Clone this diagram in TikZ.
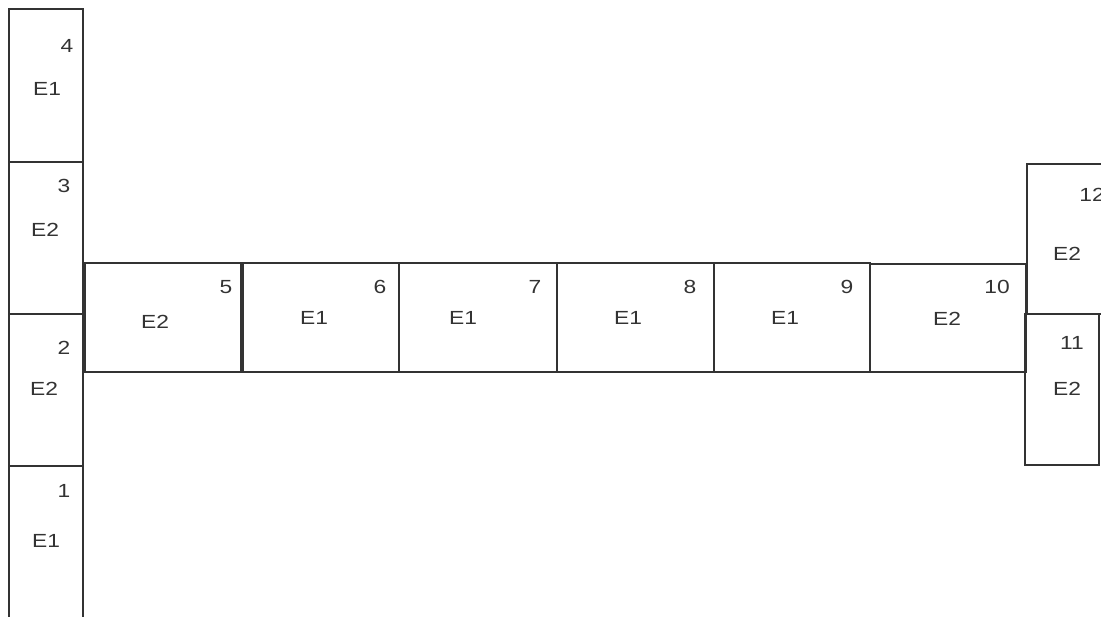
\documentclass[tikz,border=0pt]{standalone}
\usepackage{fontspec}
\setmainfont{Liberation Sans}[FakeStretch=1.2]
\usetikzlibrary{calc}

\begin{document}
\begin{tikzpicture}[x=1pt, y=-1pt, line width=1.2pt, draw=black!80,
    num/.style={text=black!80, font=\fontsize{19}{19}\selectfont, inner sep=0pt},
    mat/.style={text=black!80, font=\fontsize{19}{19}\selectfont, inner sep=0pt}]
        \useasboundingbox (0,0) rectangle (1101,617);
        \clip (0,0) rectangle (1101,617);
        % left column
        \path[draw](9,9) rectangle (83,162);
        \path[draw](9,162) rectangle (83,314);
        \path[draw](9,314) rectangle (83,466);
        \path[draw](9,466) rectangle (83,625);
        \node[num](n4) at (67,46) {4};
        \node[mat](m4) at (47,89) {E1};
        \node[num](n3) at (64,186) {3};
        \node[mat](m3) at (45,230) {E2};
        \node[num](n2) at (64,348) {2};
        \node[mat](m2) at (44,389) {E2};
        \node[num](n1) at (64,491) {1};
        \node[mat](m1) at (46,541) {E1};
        % row
        \path[draw](85,263) rectangle (241,372);
        \path[draw](243,263) rectangle (399,372);
        \path[draw](399,263) rectangle (557,372);
        \path[draw](557,263) rectangle (714,372);
        \path[draw](714,263) rectangle (870,372);
        \path[draw](870,264) rectangle (1026,372);
        \node[num](n5) at (226,287) {5};
        \node[mat](m5) at (155,322) {E2};
        \node[num](n6) at (380,287) {6};
        \node[mat](m6) at (314,318) {E1};
        \node[num](n7) at (535,287) {7};
        \node[mat](m7) at (463,318) {E1};
        \node[num](n8) at (690,287) {8};
        \node[mat](m8) at (628,318) {E1};
        \node[num](n9) at (847,287) {9};
        \node[mat](m9) at (785,318) {E1};
        \node[num](n10) at (997,287) {10};
        \node[mat](m10) at (947,319) {E2};
        % right column
        \path[draw](1027,164) rectangle (1108,314);
        \path[draw](1025,314) rectangle (1099,465);
        \node[num](n12) at (1092,195) {12};
        \node[mat](m12) at (1067,254) {E2};
        \node[num](n11) at (1072,343) {11};
        \node[mat](m11) at (1067,389) {E2};
    \end{tikzpicture}
\end{document}
